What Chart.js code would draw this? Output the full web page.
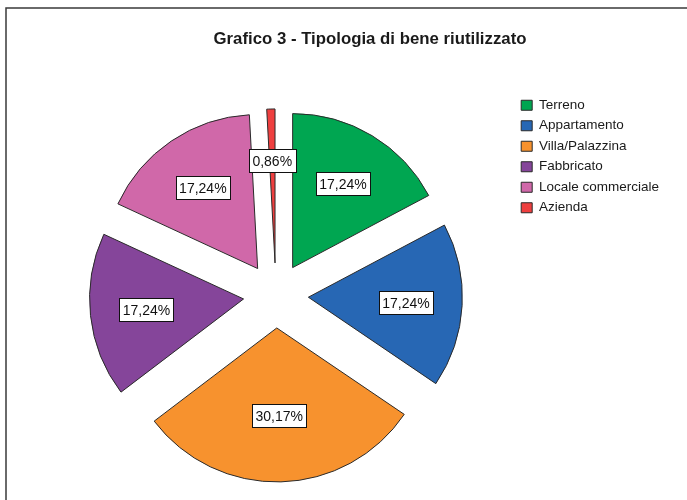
<!DOCTYPE html>
<html>
<head>
<meta charset="utf-8">
<script src="https://cdn.jsdelivr.net/npm/chart.js@4.4.1/dist/chart.umd.min.js"></script>
<style>
  html, body { margin: 0; padding: 0; background: #fff; }
</style>
</head>
<body>
<canvas id="chart" width="687" height="500"></canvas>
<script>
const chartTitle = 'Grafico 3 - Tipologia di bene riutilizzato';
const categories = ['Terreno', 'Appartamento', 'Villa/Palazzina', 'Fabbricato', 'Locale commerciale', 'Azienda'];
const percentages = [17.24, 17.24, 30.17, 17.24, 17.24, 0.86];
const sliceColors = ['#00a651', '#2767b4', '#f7922e', '#85459a', '#d068a9', '#ee3f3f'];

const FONT = '"Liberation Sans", Arial, sans-serif';
const EXPLODE = 32.5; // same distance for every slice

// move each slice out along its middle angle
const explodePlugin = {
    id: 'explode',
    afterDatasetsUpdate(chart) {
        chart.getDatasetMeta(0).data.forEach(arc => {
            const mid = (arc.startAngle + arc.endAngle) / 2;
            arc.x += Math.cos(mid) * EXPLODE;
            arc.y += Math.sin(mid) * EXPLODE;
        });
    }
};

// percentage labels in white boxes, at the centroid of each slice
const sliceLabels = {
    id: 'sliceLabels',
    afterDatasetsDraw(chart) {
        const ctx = chart.ctx;
        ctx.save();
        ctx.font = '14px ' + FONT;
        ctx.textAlign = 'center';
        ctx.textBaseline = 'middle';
        chart.getDatasetMeta(0).data.forEach((arc, i) => {
            const half = (arc.endAngle - arc.startAngle) / 2;
            const mid = arc.startAngle + half;
            const dist = 2 * arc.outerRadius * Math.sin(half) / (3 * half);
            const x = arc.x + Math.cos(mid) * dist;
            const y = arc.y + Math.sin(mid) * dist;
            const text = percentages[i].toFixed(2).replace('.', ',') + '%';
            const w = Math.round(ctx.measureText(text).width + 7);
            const h = 23;
            const left = Math.round(x - w / 2) + 0.5;
            const top = Math.round(y - h / 2) + 0.5;
            ctx.fillStyle = '#fff';
            ctx.fillRect(left, top, w, h);
            ctx.strokeStyle = '#111';
            ctx.lineWidth = 1;
            ctx.strokeRect(left, top, w, h);
            ctx.fillStyle = '#111';
            ctx.fillText(text, x, top + h / 2 + 1);
        });
        ctx.restore();
    }
};

// outer frame and title
const frameAndTitle = {
    id: 'frameAndTitle',
    beforeDraw(chart) {
        const ctx = chart.ctx;
        ctx.save();
        ctx.strokeStyle = '#3a3a3a';
        ctx.lineWidth = 1.5;
        ctx.beginPath();
        ctx.moveTo(6, 500);
        ctx.lineTo(6, 8);
        ctx.lineTo(687, 8);
        ctx.stroke();
        ctx.fillStyle = '#1a1a1a';
        ctx.font = 'bold 16.8px ' + FONT;
        ctx.textAlign = 'center';
        ctx.textBaseline = 'alphabetic';
        ctx.fillText(chartTitle, 370, 44);
        ctx.restore();
    }
};

const ctx = document.getElementById('chart').getContext('2d');
const pieChart = new Chart(ctx, {
    type: 'pie',
    data: {
        labels: categories,
        datasets: [{
            data: percentages,
            backgroundColor: sliceColors,
            borderColor: '#2a2a2a',
            borderWidth: 1
        }]
    },
    options: {
        responsive: false,
        animation: false,
        radius: 154,
        layout: {
            padding: { top: 91.5, bottom: 0.6, left: 37.6, right: 18 }
        },
        plugins: {
            legend: {
                position: 'right',
                align: 'start',
                labels: {
                    font: { family: FONT, size: 13.5 },
                    color: '#1a1a1a',
                    boxWidth: 11,
                    boxHeight: 10,
                    padding: 7
                }
            },
            tooltip: { enabled: false }
        }
    },
    plugins: [explodePlugin, sliceLabels, frameAndTitle]
});
</script>
</body>
</html>
